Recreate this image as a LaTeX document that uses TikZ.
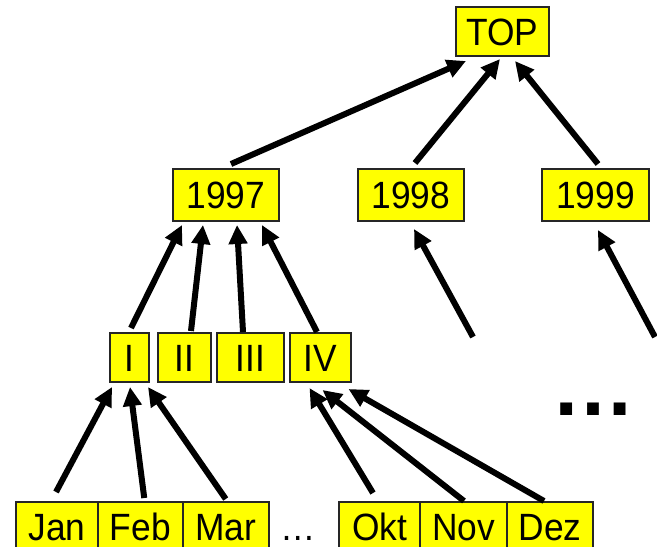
\documentclass[tikz,border=0pt]{standalone}
\usepackage{fontspec}
\setmainfont{Liberation Sans}
\newfontfamily\cellfont[FakeStretch=0.93]{Liberation Sans}
\usetikzlibrary{arrows.meta}
\definecolor{boxyellow}{RGB}{255,255,0}
\tikzset{
  celltext/.style={inner sep=0pt, text height=27pt, text depth=0pt,
    font=\cellfont\fontsize{38}{38}\selectfont},
  cell/.style={celltext, draw=black!85, line width=2pt, fill=boxyellow,
    minimum height=#1},
  cell/.default=50pt,
  link/.style={line width=6pt, -{Triangle[length=19pt,width=18pt]}},
}
\begin{document}
\begin{tikzpicture}[x=1pt,y=-1pt]
\useasboundingbox (0,0) rectangle (657,547);

% root and years
\node[cell=49pt, minimum width=93pt] (top) at (502.5,31.5) {TOP};
\node[cell=52pt, minimum width=106pt] (y97) at (226,195) {1997};
\node[cell=52pt, minimum width=106pt] (y98) at (411,195) {1998};
\node[cell=52pt, minimum width=107pt] (y99) at (595.5,195) {1999};

% quarters of 1997
\node[cell=49pt, minimum width=39pt] (q1) at (129.5,357.5) {I};
\node[cell=49pt, minimum width=53pt] (q2) at (184.5,357.5) {II};
\node[cell=49pt, minimum width=67pt] (q3) at (250.5,357.5) {III};
\node[cell=49pt, minimum width=61pt] (q4) at (320.5,357.5) {IV};

% months
\node[cell, minimum width=82pt]   (jan) at (57,527) {Jan};
\node[cell, minimum width=84.5pt] (feb) at (140.25,527) {Feb};
\node[cell, minimum width=86.5pt] (mar) at (225.75,527) {Mar};
\node[celltext] (gap) at (298.5,527) {…};
\node[cell, minimum width=81pt]   (okt) at (379.5,527) {Okt};
\node[cell, minimum width=87pt]   (nov) at (463.5,527) {Nov};
\node[cell, minimum width=86pt]   (dez) at (550,527) {Dez};

\node[anchor=base, inner sep=0pt, font=\fontsize{84}{84}\selectfont\bfseries]
  (more) at (593,415) {…};

% loose ends below 1998 and 1999
\coordinate (from98) at (473,337);
\coordinate (from99) at (655,337);

% years to TOP
\draw[link] ([xshift=5pt,yshift=4pt]y97.north) -- ([xshift=-36.5pt,yshift=-4pt]top.south);
\draw[link] ([xshift=4pt,yshift=5pt]y98.north) -- ([xshift=-2.5pt,yshift=-2pt]top.south);
\draw[link] ([xshift=2.5pt,yshift=4pt]y99.north) -- ([xshift=12.5pt,yshift=-4pt]top.south);

\draw[link] (from98) -- ([xshift=3pt,yshift=-7pt]y98.south);
\draw[link] (from99) -- ([xshift=2.5pt,yshift=-8pt]y99.south);

% quarters to 1997
\draw[link] ([xshift=1.5pt,yshift=4pt]q1.north) -- ([xshift=-44pt,yshift=-3pt]y97.south);
\draw[link] ([xshift=6.5pt,yshift=1pt]q2.north) -- ([xshift=-23pt,yshift=-3pt]y97.south);
\draw[link] ([xshift=-7.5pt]q3.north) -- ([xshift=11pt,yshift=-3pt]y97.south);
\draw[link] ([xshift=-3.5pt]q4.north) -- ([xshift=36pt,yshift=-3pt]y97.south);

% months to quarters
\draw[link] ([xshift=-1pt,yshift=9pt]jan.north) -- ([xshift=-17.5pt,yshift=-4pt]q1.south);
\draw[link] ([xshift=4pt,yshift=3pt]feb.north) -- ([xshift=0.5pt,yshift=-4pt]q1.south);
\draw[link] ([yshift=2pt]mar.north) -- ([xshift=18.5pt,yshift=-4pt]q1.south);
\draw[link] ([xshift=-6.5pt,yshift=8pt]okt.north) -- ([xshift=-11pt,yshift=-5pt]q4.south);
\draw[link] ([xshift=0.5pt]nov.north) -- ([xshift=2pt,yshift=-7pt]q4.south);
\draw[link] ([xshift=-6pt]dez.north) -- ([xshift=28pt,yshift=-6pt]q4.south);
\end{tikzpicture}
\end{document}
